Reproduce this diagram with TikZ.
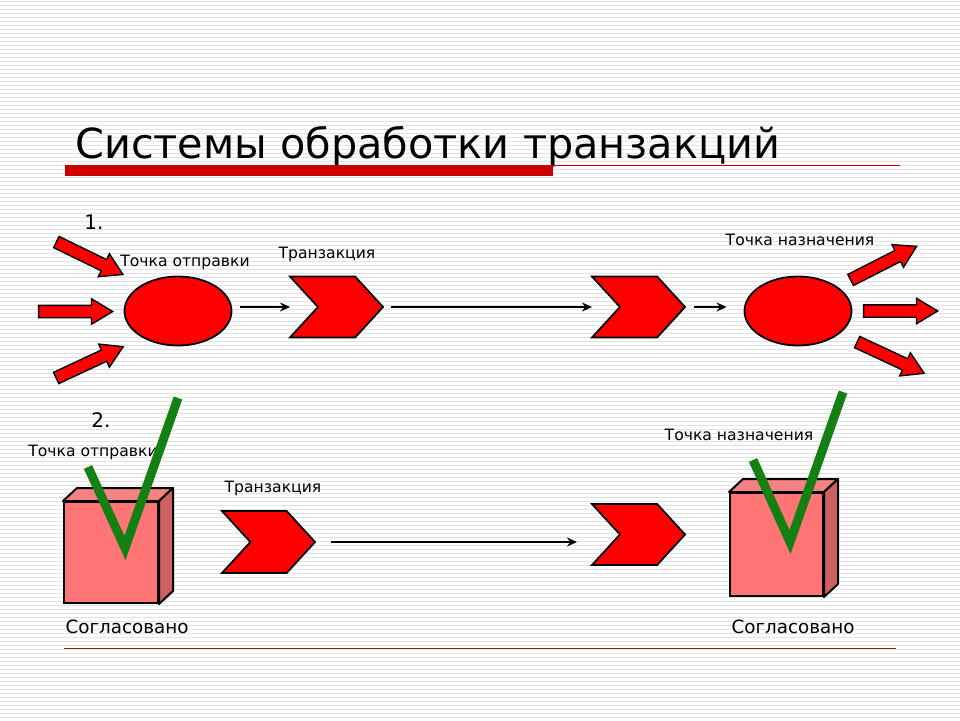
\documentclass[tikz,border=0pt]{standalone}
\usepackage{fontspec}
\setmainfont{DejaVu Sans}
\usetikzlibrary{shapes.geometric,shapes.arrows,shapes.symbols,arrows.meta}
\definecolor{boxfront}{RGB}{255,117,117}
\definecolor{boxtop}{RGB}{244,130,130}
\definecolor{boxside}{RGB}{205,96,96}
\definecolor{checkgreen}{RGB}{20,128,20}
\definecolor{barred}{RGB}{204,0,0}
\definecolor{rulered}{RGB}{150,25,25}
\tikzset{
  stripe/.style={gray!22,line width=0.8pt},
  point/.style={ellipse,draw,line width=1.8pt,fill=red,minimum width=107pt,minimum height=69pt},
  trans/.style={signal,signal to=east,signal from=west,signal pointer angle=95,draw,line width=1.8pt,
    fill=red,inner sep=0pt,minimum width=93pt,minimum height=61pt},
  blockarr/.style={single arrow,draw,line width=1.4pt,fill=red,inner xsep=0pt,inner ysep=5.5pt,
    single arrow head extend=6.5pt,single arrow tip angle=62,minimum height=74pt},
  flow/.style={-{Stealth[length=10pt,width=9pt]},line width=2.6pt},
  cube/.style={draw,line width=2pt,fill=boxfront,inner sep=0pt},
  check/.style={checkgreen,line width=9pt},
  lbl/.style={font=\fontsize{15.6}{18}\selectfont},
  ok/.style={font=\fontsize{18.3}{22}\selectfont},
  num/.style={font=\fontsize{20}{24}\selectfont}
}
\begin{document}
\begin{tikzpicture}[x=1pt,y=-1pt]
  \useasboundingbox (0,0) rectangle (960,720);
  \fill[white] (0,0) rectangle (960,720);
  \foreach \y in {1,5,...,720}
    \draw[stripe] (0,\y) -- (960,\y); %righe di sfondo
  % titolo
  \node[anchor=base west,inner sep=0pt,font=\fontsize{41.4}{48}\selectfont] (title) at (75,158) {Системы обработки транзакций};
  \fill[barred] (65,165) rectangle (553,176);
  \draw[barred,line width=0.8pt] (553,165) -- (900,165);
  \draw[rulered,line width=0.8pt] (64,648) -- (896,648);
  % schema 1
  \node[num] (n1) at (94,222) {1.};
  \node[point] (src1) at (178,311) {};
  \node[point] (dst1) at (798,311) {};
  \node[trans] (ch1) at (336.5,307) {};
  \node[trans] (ch2) at (638.5,307) {};
  \node[lbl] (lsrc1) at (185,262) {Точка отправки};
  \node[lbl] (lch1) at (327,254) {Транзакция};
  \node[lbl] (ldst1) at (800,240) {Точка назначения};
  \node[blockarr,rotate=-26] (in1) at (85,256) {};
  \node[blockarr] (in2) at (70.5,311.5) {};
  \node[blockarr,rotate=25] (in3) at (85,364.5) {};
  \node[blockarr,rotate=27] (out1) at (879,265.5) {};
  \node[blockarr] (out2) at (895.5,311) {};
  \node[blockarr,rotate=-25] (out3) at (886,355.5) {};
  \draw[flow] ([xshift=8pt]src1.east |- ch1.center) -- ([xshift=-46.5pt]ch1.center);
  \draw[flow] ([xshift=7pt]ch1.east) -- ([xshift=-46.5pt]ch2.center);
  \draw[flow] ([xshift=8pt]ch2.east) -- ([xshift=-17pt]dst1.west |- ch2.center);
  % schema 2
  \node[num] (n2) at (101,420) {2.};
  \node[cube,minimum width=94pt,minimum height=101pt] (src2) at (111,552.5) {};
  \node[cube,minimum width=93pt,minimum height=103pt] (dst2) at (776.5,544.5) {};
  \foreach \b in {src2,dst2}{
    \draw[line width=2pt,fill=boxtop,line join=round] (\b.north west) -- ++(14,-13) -- ([shift={(14,-13)}]\b.north east) -- (\b.north east) -- cycle; %faccia sopra
    \draw[line width=2pt,fill=boxside,line join=round] (\b.north east) -- ++(14,-13) -- ([shift={(14,-13)}]\b.south east) -- (\b.south east) -- cycle; %faccia laterale
  }
  \node[trans,minimum height=62pt] (ch3) at (268.5,542) {};
  \node[trans] (ch4) at (638.5,534.5) {};
  \draw[flow] ([xshift=15pt]ch3.east) -- ([xshift=-61.5pt]ch3.east -| ch4.center);
  \node[lbl] (lsrc2) at (93,452) {Точка отправки};
  \node[lbl] (lch3) at (273,488) {Транзакция};
  \node[lbl] (ldst2) at (739,435) {Точка назначения};
  \node[ok] (oksrc) at (127,627) {Согласовано};
  \node[ok] (okdst) at (793,627) {Согласовано};
  \draw[check] (88,467) -- (125,548) -- (178,398); %spunta
  \draw[check] (753,460) -- (790,542) -- (843,392);
\end{tikzpicture}
\end{document}
